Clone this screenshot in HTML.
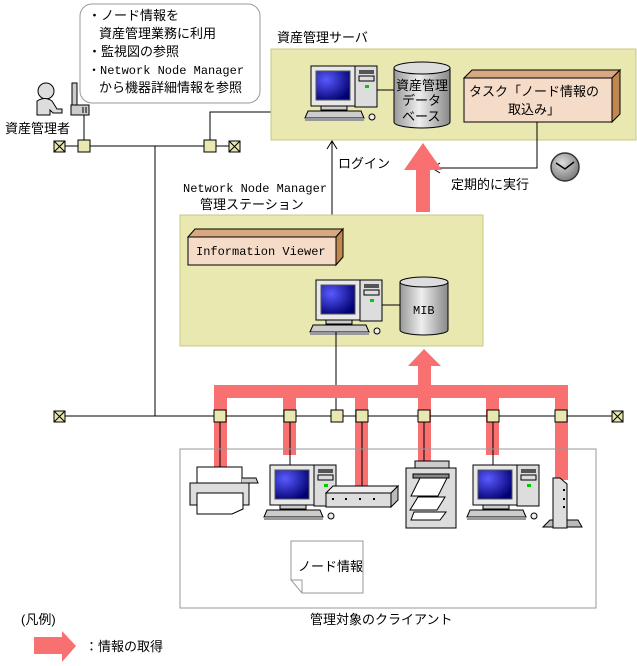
<!DOCTYPE html>
<html><head><meta charset="utf-8"><style>
html,body{margin:0;padding:0;background:#fff;}
svg{display:block;}
text{font-family:"Liberation Sans","Noto Sans CJK JP",sans-serif;font-size:13px;fill:#000;}
.m{font-family:"Liberation Mono","Noto Sans CJK JP",monospace;font-size:12px;}
</style></head><body>
<svg width="637" height="666" viewBox="0 0 637 666" xmlns="http://www.w3.org/2000/svg">
<defs>
<radialGradient id="scr" cx="0.3" cy="0.3" r="0.8"><stop offset="0" stop-color="#5a5aff"/><stop offset="1" stop-color="#000070"/></radialGradient>
<linearGradient id="cyl" x1="0" x2="1"><stop offset="0" stop-color="#999"/><stop offset="0.45" stop-color="#eee"/><stop offset="1" stop-color="#888"/></linearGradient>
<radialGradient id="clk" cx="0.4" cy="0.35" r="0.7"><stop offset="0" stop-color="#ddd"/><stop offset="1" stop-color="#777"/></radialGradient>
<g id="pc">
 <rect x="0" y="0" width="44" height="40" fill="#e8e8e8" stroke="#000"/>
 <rect x="5" y="5" width="34" height="29" fill="url(#scr)" stroke="#555"/>
 <rect x="44" y="0" width="22" height="41" fill="#ddd" stroke="#000"/>
 <rect x="48" y="4" width="15" height="4" fill="#555"/>
 <rect x="48" y="10" width="15" height="5" fill="none" stroke="#000"/>
 <rect x="54" y="19" width="4" height="3" fill="#0c0"/>
 <rect x="10" y="40" width="26" height="4" fill="#ccc" stroke="#000"/>
 <path d="M-6 52 L-3 45 L50 45 L53 52 Z" fill="#ccc" stroke="#000"/>
 <rect x="-6" y="52" width="59" height="3" fill="#999"/>
 <ellipse cx="61" cy="51" rx="3" ry="3" fill="#eee" stroke="#000"/>
</g>
<g id="xb"><rect x="-5" y="-5" width="11" height="11" fill="#e8e8b0" stroke="#000"/><path d="M-5 -5 L6 6 M6 -5 L-5 6" stroke="#000"/></g>
<g id="nb"><rect x="-6" y="-6" width="12" height="12" fill="#e8e8b0" stroke="#000"/></g>
</defs>

<!-- callout -->
<rect x="80" y="4" width="180" height="99" rx="12" fill="#fff" stroke="#999"/>
<text x="88" y="20">・ノード情報を</text>
<text x="99" y="38">資産管理業務に利用</text>
<text x="88" y="56">・監視図の参照</text>
<text x="88" y="74" class="m">・Network Node Manager</text>
<text x="99" y="92">から機器詳細情報を参照</text>

<!-- person -->
<circle cx="46" cy="91" r="8" fill="#ddd" stroke="#000"/>
<path d="M37 101 Q45 96 52 101 L57 109 L62 109 L62 113 L53 113 L50 110 L50 115 L37 115 Z" fill="#ddd" stroke="#000"/>
<rect x="72" y="83" width="5" height="22" fill="#ccc" stroke="#000"/>
<rect x="71" y="105" width="18" height="10" fill="#ccc" stroke="#000"/>
<path d="M83 107 L83 113 M86 107 L86 113" stroke="#000"/>
<text x="5" y="133">資産管理者</text>

<!-- top network -->
<line x1="60" y1="146" x2="234" y2="146" stroke="#000"/>
<line x1="84" y1="115" x2="84" y2="146" stroke="#000"/>
<line x1="155" y1="146" x2="155" y2="416" stroke="#000"/>
<polyline points="210,146 210,112 306,112" fill="none" stroke="#000"/>
<use href="#xb" x="59" y="146"/><use href="#nb" x="84" y="146"/><use href="#nb" x="210" y="146"/><use href="#xb" x="234" y="146"/>

<!-- asset server -->
<text x="277" y="42">資産管理サーバ</text>
<rect x="271" y="49" width="365" height="91" fill="#e8e8b0" stroke="#c8c880"/>
<line x1="377" y1="90" x2="396" y2="90" stroke="#000"/>
<use href="#pc" x="311" y="66"/>
<path d="M394 68 L394 122 A28 6 0 0 0 450 122 L450 68" fill="url(#cyl)" stroke="#000"/>
<ellipse cx="422" cy="68" rx="28" ry="6" fill="#ddd" stroke="#000"/>
<text x="396" y="90">資産管理</text><text x="402" y="105">データ</text><text x="402" y="121">ベース</text>
<path d="M464 78 L472 70 L620 70 L612 78 Z" fill="#d8a880" stroke="#000"/>
<path d="M612 78 L620 70 L620 114 L612 122 Z" fill="#c08850" stroke="#000"/>
<rect x="464" y="78" width="148" height="44" fill="#f5dcc8" stroke="#000"/>
<text x="469" y="96">タスク「ノード情報の</text>
<text x="508" y="114">取込み」</text>
<polyline points="537,122 537,168 432,168" fill="none" stroke="#000"/>
<path d="M440 163 L432 168 L440 173" fill="none" stroke="#000"/>
<circle cx="565" cy="167" r="14" fill="url(#clk)" stroke="#333" stroke-width="1.5"/>
<polyline points="556,163 565,169 574,162" fill="none" stroke="#000" stroke-width="1.5"/>
<text x="451" y="189">定期的に実行</text>

<!-- login -->
<line x1="332" y1="229" x2="332" y2="141" stroke="#000"/>
<path d="M327 149 L332 141 L337 149" fill="none" stroke="#000"/>
<text x="338" y="168">ログイン</text>
<path d="M416 212 L416 170 L404 170 L423 143 L442 170 L430 170 L430 212 Z" fill="#f87070"/>

<!-- NNM -->
<text x="183" y="192" class="m">Network Node Manager</text>
<text x="200" y="209">管理ステーション</text>
<rect x="180" y="215" width="303" height="131" fill="#e8e8b0" stroke="#c8c880"/>
<path d="M188 237 L195 229 L343 229 L336 237 Z" fill="#d8a880" stroke="#000"/>
<path d="M336 237 L343 229 L343 257 L336 265 Z" fill="#c08850" stroke="#000"/>
<rect x="188" y="237" width="148" height="28" fill="#f5dcc8" stroke="#000"/>
<text x="196" y="255" class="m">Information Viewer</text>
<line x1="380" y1="305" x2="402" y2="305" stroke="#000"/>
<use href="#pc" x="316" y="280"/>
<path d="M400 282 L400 330 A24 5 0 0 0 448 330 L448 282" fill="url(#cyl)" stroke="#000"/>
<ellipse cx="424" cy="282" rx="24" ry="5" fill="#ddd" stroke="#000"/>
<text x="413" y="314" class="m">MIB</text>
<line x1="336" y1="332" x2="336" y2="416" stroke="#000"/>

<!-- pink collector -->
<path d="M418 385 L418 366 L408 366 L424 349 L441 366 L431 366 L431 385 Z" fill="#f87070"/>
<rect x="214" y="385" width="354" height="13" fill="#f87070"/>
<g fill="#f87070">
<rect x="214" y="385" width="13" height="85"/>
<rect x="283" y="385" width="13" height="70"/>
<rect x="355" y="385" width="13" height="102"/>
<rect x="418" y="385" width="13" height="80"/>
<rect x="486" y="385" width="13" height="70"/>
<rect x="555" y="385" width="13" height="95"/>
</g>
<g stroke="#000">
<line x1="220" y1="416" x2="220" y2="468"/>
<line x1="290" y1="416" x2="290" y2="465"/>
<line x1="362" y1="416" x2="362" y2="487"/>
<line x1="424" y1="416" x2="424" y2="462"/>
<line x1="493" y1="416" x2="493" y2="465"/>
</g>
<line x1="60" y1="416" x2="617" y2="416" stroke="#000"/>
<use href="#xb" x="59" y="416"/><use href="#xb" x="617" y="416"/>
<use href="#nb" x="220" y="416"/><use href="#nb" x="290" y="416"/><use href="#nb" x="337" y="416"/><use href="#nb" x="362" y="416"/><use href="#nb" x="424" y="416"/><use href="#nb" x="493" y="416"/><use href="#nb" x="561" y="416"/>

<!-- clients box -->
<rect x="180" y="449" width="416" height="159" fill="none" stroke="#999"/>
<rect x="197" y="467" width="45" height="16" fill="#fff" stroke="#000"/>
<path d="M242 478 L256 478 L258 483 L242 483" fill="#ccc" stroke="#000"/>
<rect x="190" y="483" width="59" height="22" fill="#ddd" stroke="#000"/>
<path d="M197 493 L243 493 L243 509 L232 514 L197 514 Z" fill="#fff" stroke="#000"/>
<use href="#pc" x="270" y="465"/>
<path d="M326 493 L333 486 L398 486 L391 493 Z" fill="#eee" stroke="#000"/>
<path d="M391 493 L398 486 L398 500 L391 507 Z" fill="#bbb" stroke="#000"/>
<rect x="326" y="493" width="65" height="14" fill="#ddd" stroke="#000"/>
<g fill="#000"><rect x="332" y="498" width="2" height="2"/><rect x="345" y="498" width="2" height="2"/><rect x="359" y="498" width="2" height="2"/><rect x="373" y="498" width="2" height="2"/></g>
<rect x="415" y="461" width="34" height="7" fill="#ccc" stroke="#000"/>
<rect x="406" y="468" width="50" height="60" fill="#ddd" stroke="#000"/>
<rect x="413" y="474" width="36" height="4" fill="#888" stroke="#000"/>
<path d="M420 478 L447 478 L438 496 L411 496 Z M418 497 L445 497 L437 510 L410 510 Z M414 512 L446 512 L440 520 L411 520 Z" fill="#fff" stroke="#000"/>
<use href="#pc" x="473" y="465"/>
<path d="M543 527 L550 520 L578 520 L582 527 Z" fill="#bbb" stroke="#000"/>
<path d="M553 478 L560 478 L567 484 L567 528 L553 528 Z" fill="#ddd" stroke="#000"/>
<g fill="#000"><rect x="563" y="489" width="2" height="2"/><rect x="563" y="498" width="2" height="2"/><rect x="563" y="506" width="2" height="2"/></g>
<path d="M291 541 L363 541 L363 593 L302 593 L291 580 Z" fill="#fff" stroke="#999"/>
<path d="M291 580 L302 580 L302 593" fill="none" stroke="#999"/>
<text x="298" y="571">ノード情報</text>
<text x="310" y="624">管理対象のクライアント</text>

<text x="21" y="624">(凡例)</text>
<path d="M34 637 L62 637 L62 631 L76 646 L62 662 L62 654 L34 654 Z" fill="#f87070"/>
<text x="85" y="651">：情報の取得</text>
</svg>
</body></html>
